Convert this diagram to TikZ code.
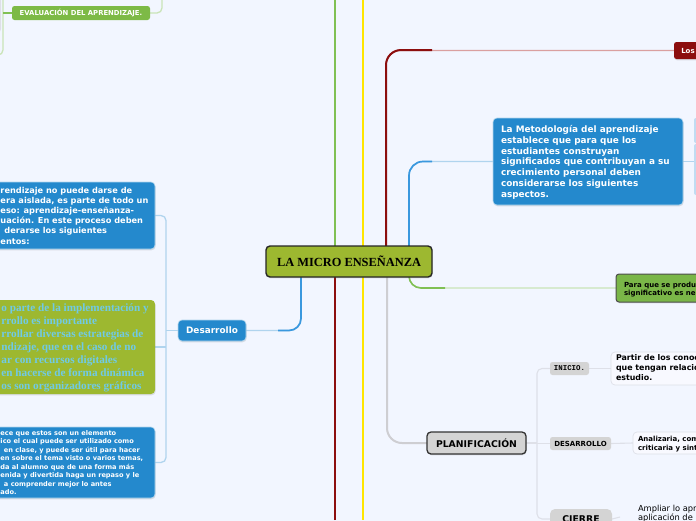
\documentclass[tikz,border=0pt]{standalone}
\usepackage{fontspec}
\newfontfamily\dv{DejaVu Sans}
\newfontfamily\lser{Liberation Serif}
\newfontfamily\lmon{Liberation Mono}
\usetikzlibrary{calc,shadows}
\definecolor{bgc}{RGB}{242,246,255}
\definecolor{boxblue}{RGB}{36,137,205}
\definecolor{olivec}{RGB}{157,184,48}
\definecolor{evalgreen}{RGB}{125,186,70}
\definecolor{paragreen}{RGB}{122,182,72}
\definecolor{dred}{RGB}{140,14,14}
\definecolor{lred}{RGB}{218,160,160}
\definecolor{ygold}{RGB}{255,230,0}
\definecolor{tgreen}{RGB}{128,192,84}
\definecolor{lgreenc}{RGB}{202,228,184}
\definecolor{bline}{RGB}{58,152,222}
\definecolor{lbluec}{RGB}{176,212,238}
\definecolor{greyn}{RGB}{212,212,212}
\definecolor{greyl}{RGB}{206,206,210}
\definecolor{greyll}{RGB}{222,224,232}
\definecolor{cyant}{RGB}{112,202,230}
\definecolor{leaf}{RGB}{248,249,255}
\definecolor{sliver}{RGB}{192,220,242}
\pgfdeclarelayer{bglayer}
\pgfdeclarelayer{lines}
\pgfsetlayers{bglayer,lines,main}
\begin{document}
\begin{tikzpicture}[x=1pt,y=-1pt,
  bx/.style={anchor=north west, inner sep=0pt, outer sep=0pt},
  shad/.style={drop shadow={opacity=0.22, shadow xshift=0.6pt, shadow yshift=-1.3pt}},
  bluebox/.style={bx, fill=boxblue, draw=white!65!boxblue, line width=0.6pt, rounded corners=4pt, shad},
  txt/.style={inner sep=0pt, outer sep=0pt, anchor=base west},
  greybox/.style={bx, fill=greyn, rounded corners=2.5pt},
  leafbox/.style={bx, fill=leaf, draw=greyll, line width=0.7pt, rounded corners=4pt},
  trunkg/.style={draw=tgreen, line width=2pt},
  trunky/.style={draw=ygold, line width=2pt},
  trunkr/.style={draw=dred, line width=2pt},
  linelr/.style={draw=lred, line width=1.2pt},
  lineb/.style={draw=bline, line width=1.7pt},
  linelb/.style={draw=lbluec, line width=1.3pt},
  lineg/.style={draw=tgreen, line width=1.6pt},
  linelg/.style={draw=lgreenc, line width=1.3pt},
  linegr/.style={draw=greyl, line width=2pt},
  linelgr/.style={draw=greyll, line width=1.1pt}
]
\useasboundingbox (0,0) rectangle (696,520);
\begin{pgfonlayer}{bglayer}
\fill[bgc] (-20,-20) rectangle (716,540);
\end{pgfonlayer}

% ---------- nodes ----------
\node[bx, fill=evalgreen, rounded corners=2.5pt, minimum width=138pt, minimum height=14pt,
  text=white, font=\dv\bfseries\fontsize{6.85}{8}\selectfont] (eval) at (12,6) {EVALUACIÓN DEL APRENDIZAJE.};

\node[bluebox, minimum width=165pt, minimum height=67pt] (box1) at (-10,182) {};
\node[txt, text=white] (t1) at (0.5,193) {\parbox[t]{300pt}{\dv\bfseries\fontsize{8.2}{10.2}\selectfont\raggedright
rendizaje no puede darse de\\
era aislada, es parte de todo un\\
eso: aprendizaje-enseñanza-\\
uación. En este proceso deben\\
\hspace*{4pt}derarse los siguientes\\
entos:}};

\node[bx, fill=olivec, rounded corners=4pt, minimum width=165pt, minimum height=94pt, shad] (box2) at (-10,300) {};
\node[txt, text=cyant] (t2) at (1.5,311) {\parbox[t]{300pt}{\lser\bfseries\fontsize{11.2}{13}\selectfont\raggedright
o parte de la implementación y\\
rrollo es importante\\
rrollar diversas estrategias de\\
ndizaje, que en el caso de no\\
ar con recursos digitales\\
en hacerse de forma dinámica\\
os son organizadores gráficos}};

\node[bluebox, minimum width=165pt, minimum height=71pt] (box3) at (-10,427) {};
\node[txt, text=white] (t3) at (0.5,435) {\parbox[t]{300pt}{\dv\bfseries\fontsize{6.6}{8.57}\selectfont\raggedright
ece que estos son un elemento\\
ico el cual puede ser utilizado como\\
\hspace*{3.5pt}en clase, y puede ser útil para hacer\\
en sobre el tema visto o varios temas,\\
da al alumno que de una forma más\\
enida y divertida haga un repaso y le\\
\hspace*{3.5pt}a comprender mejor lo antes\\
ado.}};

\node[bluebox, minimum width=68pt, minimum height=21pt, text=white,
  font=\dv\bfseries\fontsize{8.9}{10}\selectfont] (desarrollo) at (178,320) {Desarrollo};

\node[bx, fill=olivec, draw=black!85, line width=1.4pt, rounded corners=4pt, minimum width=166pt,
  minimum height=31pt, shad, font=\lser\bfseries\fontsize{12.4}{14}\selectfont] (center) at (266,246) {LA MICRO ENSEÑANZA};

\node[bx, fill=dred, rounded corners=2.5pt, minimum width=30pt, minimum height=17pt, shad, text=white,
  font=\dv\bfseries\fontsize{7}{8}\selectfont] (los) at (674,42) {Los\hspace*{2pt}};

\node[bluebox, minimum width=190pt, minimum height=87pt] (metod) at (493,118) {};
\node[txt, text=white] (t4) at (501,132.5) {\parbox[t]{300pt}{\dv\bfseries\fontsize{8.9}{10.8}\selectfont\raggedright
La Metodología del aprendizaje\\
establece que para que los\\
estudiantes construyan\\
significados que contribuyan a su\\
crecimiento personal deben\\
considerarse los siguientes\\
aspectos.}};

\node[bx, fill=sliver, rounded corners=2pt, minimum width=8pt, minimum height=25pt] (s1) at (694,118) {};
\node[bx, fill=sliver, rounded corners=2pt, minimum width=8pt, minimum height=51pt] (s2) at (694,144) {};

\node[bx, fill=paragreen, draw=black!70, line width=1pt, rounded corners=3pt, minimum width=90pt,
  minimum height=28pt, shad] (para) at (616,274) {};
\node[txt] (t5) at (624,287) {\parbox[t]{300pt}{\dv\bfseries\fontsize{7}{8.3}\selectfont\raggedright
Para que se produ\\
significativo es ne}};

\node[bx, fill=greyn, draw=black!80, line width=1.3pt, rounded corners=4pt, minimum width=99pt,
  minimum height=22pt, shad, font=\dv\bfseries\fontsize{9.3}{11}\selectfont] (plan) at (427,432) {PLANIFICACIÓN};

\node[greybox, minimum width=39pt, minimum height=13pt, font=\lmon\bfseries\fontsize{7.4}{8}\selectfont] (inicio) at (550,362) {INICIO.};
\node[greybox, minimum width=61pt, minimum height=13pt, font=\dv\bfseries\fontsize{7}{8}\selectfont] (desa2) at (550,437) {DESARROLLO};
\node[bx, fill=greyn, rounded corners=5pt, minimum width=62pt, minimum height=20pt, font=\dv\bfseries\fontsize{9.3}{11}\selectfont] (cierre) at (550,509) {CIERRE};

\node[leafbox, minimum width=95pt, minimum height=33pt] (partir) at (611,352) {};
\node[txt] (t6) at (616,360.7) {\parbox[t]{300pt}{\dv\bfseries\fontsize{7.9}{9.7}\selectfont\raggedright
Partir de los conoc\\
que tengan relació\\
estudio.}};

\node[leafbox, minimum width=72pt, minimum height=22pt] (analiz) at (633,432) {};
\node[txt] (t7) at (638,441.7) {\parbox[t]{300pt}{\dv\bfseries\fontsize{7}{8.4}\selectfont\raggedright
Analizaria, com\\
criticaria y sint}};

\node[bx, minimum width=80pt, minimum height=30pt] (ampbox) at (620,502) {};
\node[txt] (t8) at (638,511.7) {\parbox[t]{300pt}{\dv\fontsize{8.3}{9}\selectfont\raggedright
Ampliar lo apr\\
aplicación de l}};

% ---------- coordinates ----------
\coordinate (gtop) at (335,0);
\coordinate (ytop) at (363,0);
\coordinate (ybot) at (363,520);
\coordinate (rbot) at (335,520);
\coordinate (rx) at (386,0);
\coordinate (rmid) at (432,50);
\coordinate (bx) at (409,0);
\coordinate (bmid) at (432,161.5);
\coordinate (gmid) at (445,288);
\coordinate (px) at (387,0);
\coordinate (dx) at (301,0);
\coordinate (dmid) at (278,330.5);
\coordinate (tx) at (166,330);
\coordinate (ptx) at (537,440);
\coordinate (elt) at (3,0);
\coordinate (elb) at (3,55);
\coordinate (elb2) at (-8,55);
\coordinate (e2t) at (0.5,0);
\coordinate (e2b) at (0.5,33);
\coordinate (e2b2) at (-8,33);
\coordinate (ert) at (162,0);

% ---------- connectors ----------
\begin{pgfonlayer}{lines}
\draw[trunkg] (gtop) -- (gtop |- center.center);
\draw[trunky] (ytop) -- (ybot);
\draw[trunkr] (rbot) -- (rbot |- center.center);
\draw[linelr, rounded corners=15pt] (center.center -| rx) |- (los.west);
\draw[trunkr, rounded corners=15pt] (center.center -| rx) |- (rmid);
\draw[linelb, rounded corners=14pt] (center.north -| bx) |- (metod.west);
\draw[lineb, rounded corners=14pt] (center.center -| bx) |- (bmid);
\draw[linelg, rounded corners=12pt] (center.south -| bx) |- (para.west);
\draw[lineg, rounded corners=12pt] (center.center -| bx) |- (gmid);
\draw[linegr, rounded corners=15pt] (center.center -| px) |- (plan.west);
\draw[linelb, rounded corners=12pt] (center.center -| dx) |- (desarrollo.east);
\draw[lineb, rounded corners=12pt] (center.center -| dx) |- (dmid);
\draw[linelb] (metod.east) -- (s1.west |- metod.east);
% Desarrollo children
\draw[linelb, rounded corners=5pt] (box1.east) -| (tx) |- (box3.east);
\draw[linelb] (box2.east) -- (box2.east -| tx);
\draw[linelb] (desarrollo.west) -- (desarrollo.west -| tx);
% Planificacion children
\draw[linelgr] (plan.east) -- (plan.east -| ptx);
\draw[linelgr, rounded corners=5pt] (inicio.west) -| (ptx) |- (cierre.west);
\draw[linelgr] (desa2.west) -- (desa2.west -| ptx);
\draw[linelgr] (inicio.east) -- (partir.west);
\draw[linelgr] (desa2.east) -- (analiz.west);
\draw[linelgr] (cierre.east) -- (ampbox.west);
% Evaluacion
\draw[linelg, rounded corners=5pt] (elt) -- (elb) -- (elb2);
\draw[draw=greyll, line width=1pt, rounded corners=4pt] (e2t) -- (e2b) -- (e2b2);
\draw[draw=tgreen, line width=1.3pt] (eval.west) -- (eval.west -| elt);
\draw[linelg, rounded corners=5pt] (eval.east) -| (ert);
\end{pgfonlayer}
\end{tikzpicture}
\end{document}
